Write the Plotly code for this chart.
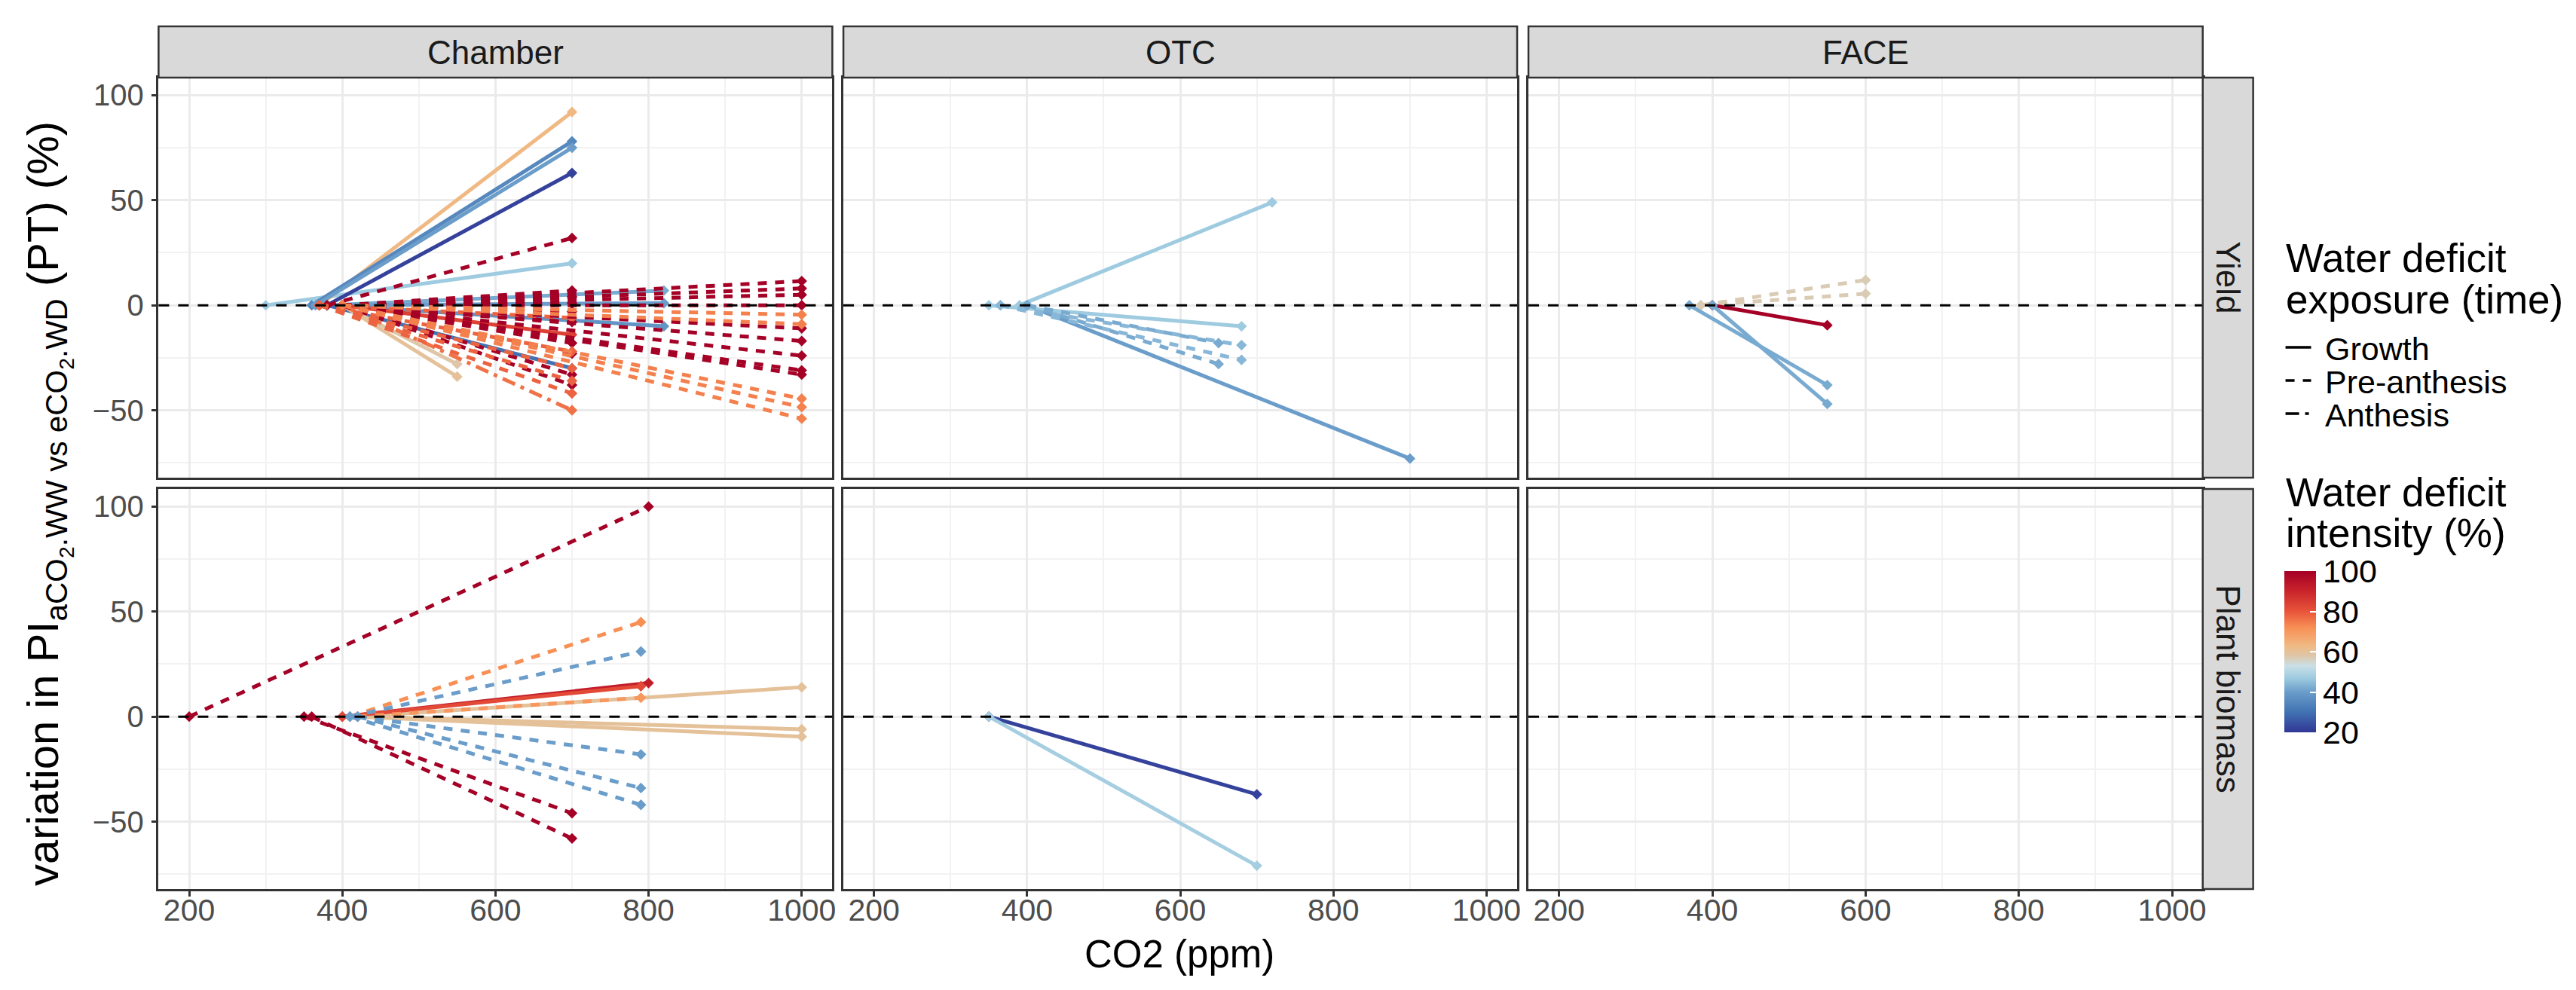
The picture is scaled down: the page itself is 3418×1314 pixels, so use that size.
import plotly.graph_objects as go
from plotly.colors import sample_colorscale

W, H = 3418, 1314
FONT = "Liberation Sans, Arial, sans-serif"

# ---------------- data ----------------
systems = ["Chamber", "OTC", "FACE"]
traits = ["Yield", "Plant biomass"]
x_ticks = [200, 400, 600, 800, 1000]
x_minor = [300, 500, 700, 900]
y_ticks = [-50, 0, 50, 100]
y_minor = [-75, -25, 25, 75]
intensity_ticks = [20, 40, 60, 80, 100]
exposure_names = {"G": "Growth", "P": "Pre-anthesis", "A": "Anthesis"}

# Chamber - Yield
ch_y_aco2 = [300, 370, 360, 365, 380, 380, 380, 380, 400, 380, 400, 400, 400,
             380, 400, 400, 400, 400, 400, 400, 400, 400, 400,
             370, 370, 370, 370, 370,
             400, 400, 400, 400, 400, 400, 400, 400, 400,
             400, 400, 400, 400, 400]
ch_y_eco2 = [700, 700, 700, 700, 700, 820, 820, 820, 700, 700, 550, 550, 700,
             700, 700, 700, 700, 700, 700, 700, 700, 700, 700,
             700, 700, 700, 700, 700,
             1000, 1000, 1000, 1000, 1000, 1000, 1000, 1000, 1000,
             1000, 1000, 1000, 1000, 1000]
ch_y_pct = [20, 92, 78, 75, 63, 7, 1, -10, -14, -30, -28, -34, -50,
            32, 7, 4, 1, -3, -8, -18, -23, -33, -38,
            -6, -22, -30, -36, -42,
            11.5, 8, 5, 0, -11, -17, -24, -31, -33,
            -4.5, -9, -44.5, -48.5, -54]
ch_y_wd = [47, 63, 35, 40, 22, 42, 40, 38, 84, 30, 58, 60, 76,
           100, 100, 100, 100, 100, 100, 100, 100, 100, 100,
           78, 78, 78, 78, 78,
           100, 100, 100, 100, 100, 100, 100, 100, 100,
           74, 74, 74, 74, 74]
ch_y_exp = ["G"] * 12 + ["A"] + ["P"] * 29

# OTC - Yield
otc_y_aco2 = [390, 400, 350, 365, 365, 400, 400]
otc_y_eco2 = [720, 900, 680, 680, 680, 650, 650]
otc_y_pct = [49, -73, -10, -19, -26, -18, -28]
otc_y_wd = [47, 40, 47, 44, 44, 42, 42]
otc_y_exp = ["G", "G", "G", "P", "P", "P", "P"]

# FACE - Yield
face_y_aco2 = [385, 385, 400, 370, 400]
face_y_eco2 = [600, 600, 550, 550, 550]
face_y_pct = [12, 5.5, -9.5, -38, -47]
face_y_wd = [57, 57, 100, 42, 42]
face_y_exp = ["P", "P", "G", "G", "G"]

# Chamber - Plant biomass
ch_b_aco2 = [420, 420, 420, 400, 400, 200, 350, 360, 410, 410, 420, 420, 420, 410]
ch_b_eco2 = [1000, 1000, 1000, 800, 790, 800, 700, 700, 790, 790, 790, 790, 790, 790]
ch_b_pct = [14, -6, -9.5, 16, 14.5, 100, -46, -58, 45, 31, 9, -18, -34, -42]
ch_b_wd = [60, 60, 60, 92, 82, 100, 100, 100, 72, 40, 70, 40, 40, 40]
ch_b_exp = ["G", "G", "G", "G", "G", "P", "P", "P", "P", "P", "P", "P", "P", "P"]

# OTC - Plant biomass
otc_b_aco2 = [350, 350]
otc_b_eco2 = [700, 700]
otc_b_pct = [-37, -71]
otc_b_wd = [22, 48]
otc_b_exp = ["G", "G"]

# FACE - Plant biomass (no data)
face_b_aco2, face_b_eco2, face_b_pct, face_b_wd, face_b_exp = [], [], [], [], []

panels = {
    (0, 0): (ch_y_aco2, ch_y_eco2, ch_y_pct, ch_y_wd, ch_y_exp),
    (0, 1): (otc_y_aco2, otc_y_eco2, otc_y_pct, otc_y_wd, otc_y_exp),
    (0, 2): (face_y_aco2, face_y_eco2, face_y_pct, face_y_wd, face_y_exp),
    (1, 0): (ch_b_aco2, ch_b_eco2, ch_b_pct, ch_b_wd, ch_b_exp),
    (1, 1): (otc_b_aco2, otc_b_eco2, otc_b_pct, otc_b_wd, otc_b_exp),
    (1, 2): (face_b_aco2, face_b_eco2, face_b_pct, face_b_wd, face_b_exp),
}

# ---------------- styling ----------------
cs_stops = [(20, "#313695"), (30, "#4172B3"), (40, "#6A9DCA"), (47, "#9ECBE0"),
            (53, "#CADFE6"), (58, "#DEC6A8"), (63, "#F0B983"), (72, "#F88F55"),
            (80, "#E8543A"), (90, "#C9242B"), (100, "#A50026")]
colorscale = [[(v - 20) / 80, c] for v, c in cs_stops]

def wd_color(v):
    return sample_colorscale(colorscale, [(v - 20) / 80])[0]

dash_map = {"G": "solid", "P": "12px,11px", "A": "18px,8px,5px,8px"}

col_px = [(202.7, 1098.0), (1112.7, 2008.0), (2023.0, 2919.0)]
row_px = [(95.0, 626.0), (641.0, 1172.0)]
strip_top = (27.0, 95.0)
strip_right = (2919.0, 2986.0)
XR = [160, 1040]
YR = [-82.1, 108.4]

def px(xp):
    return xp / W

def py(yp):
    return 1 - yp / H

fig = go.Figure()
layout = dict(width=W, height=H, margin=dict(l=0, r=0, t=0, b=0),
              paper_bgcolor="white", plot_bgcolor="white", showlegend=False,
              font=dict(family=FONT))
shapes = []
annotations = []

for r in range(2):
    for c in range(3):
        i = r * 3 + c + 1
        sx = "" if i == 1 else str(i)
        layout["xaxis" + sx] = dict(
            domain=[px(col_px[c][0]), px(col_px[c][1])], range=XR, anchor="y" + sx,
            tickvals=x_ticks, showticklabels=(r == 1), ticks="outside" if r == 1 else "",
            ticklen=7, tickwidth=2.5, tickcolor="#333333", ticklabelstandoff=-17,
            tickfont=dict(size=41, color="#4D4D4D", family=FONT),
            showgrid=True, gridcolor="#EBEBEB", gridwidth=2.5,
            minor=dict(tickvals=x_minor, showgrid=True, gridcolor="#F2F2F2", gridwidth=1.5),
            showline=True, mirror=True, linecolor="#333333", linewidth=2.5, zeroline=False)
        layout["yaxis" + sx] = dict(
            domain=[py(row_px[r][1]), py(row_px[r][0])], range=YR, anchor="x" + sx,
            tickvals=y_ticks, showticklabels=(c == 0), ticks="outside" if c == 0 else "",
            ticklen=7, tickwidth=2.5, tickcolor="#333333", ticklabelstandoff=2,
            tickfont=dict(size=40, color="#4D4D4D", family=FONT),
            showgrid=True, gridcolor="#EBEBEB", gridwidth=2.5,
            minor=dict(tickvals=y_minor, showgrid=True, gridcolor="#F2F2F2", gridwidth=1.5),
            showline=True, mirror=True, linecolor="#333333", linewidth=2.5, zeroline=False)

        aco2, eco2, pct, wd, exp = panels[(r, c)]
        for a, e, v, w, ex in zip(aco2, eco2, pct, wd, exp):
            col = wd_color(w)
            fig.add_trace(go.Scatter(
                x=[a, e], y=[0, v], mode="lines+markers", xaxis="x" + sx, yaxis="y" + sx,
                line=dict(color=col, width=5, dash=dash_map[ex]),
                marker=dict(symbol="diamond", size=11, color=col),
                hoverinfo="skip", showlegend=False))

        shapes.append(dict(type="line", xref="x" + sx + " domain", yref="y" + sx,
                           x0=0, x1=1, y0=0, y1=0, layer="above",
                           line=dict(color="black", width=3, dash="14px,12px")))

# top strips
for c in range(3):
    shapes.append(dict(type="rect", xref="paper", yref="paper",
                       x0=px(col_px[c][0]), x1=px(col_px[c][1]),
                       y0=py(strip_top[1]), y1=py(strip_top[0]),
                       fillcolor="#D9D9D9", line=dict(color="#333333", width=2.5)))
    annotations.append(dict(text=systems[c], xref="paper", yref="paper",
                            x=px((col_px[c][0] + col_px[c][1]) / 2),
                            y=py((strip_top[0] + strip_top[1]) / 2),
                            showarrow=False, xanchor="center", yanchor="middle",
                            font=dict(size=44, color="#1A1A1A", family=FONT)))
# right strips
for r in range(2):
    shapes.append(dict(type="rect", xref="paper", yref="paper",
                       x0=px(strip_right[0]), x1=px(strip_right[1]),
                       y0=py(row_px[r][1]), y1=py(row_px[r][0]),
                       fillcolor="#D9D9D9", line=dict(color="#333333", width=2.5)))
    annotations.append(dict(text=traits[r], xref="paper", yref="paper",
                            x=px((strip_right[0] + strip_right[1]) / 2),
                            y=py((row_px[r][0] + row_px[r][1]) / 2),
                            showarrow=False, textangle=90, xanchor="center", yanchor="middle",
                            font=dict(size=44, color="#1A1A1A", family=FONT)))

# axis titles
annotations.append(dict(text="CO2 (ppm)", xref="paper", yref="paper",
                        x=px(1559), y=py(1258), showarrow=False,
                        xanchor="center", yanchor="middle",
                        font=dict(size=51, color="black", family=FONT)))
annotations.append(dict(
    text="variation in PI<sub>aCO<sub>2</sub>.WW vs eCO<sub>2</sub>.WD</sub> (PT) (%)",
    xref="paper", yref="paper", x=px(56), y=py(660), showarrow=False,
    textangle=-90, xanchor="center", yanchor="middle",
    font=dict(size=58, color="black", family=FONT)))

# legend: exposure (linetype)
leg_x = 3027
for txt, yy in [("Water deficit", 335), ("exposure (time)", 390)]:
    annotations.append(dict(text=txt, xref="paper", yref="paper", x=px(leg_x), y=py(yy),
                            showarrow=False, xanchor="left", yanchor="middle",
                            font=dict(size=53, color="black", family=FONT)))
for code, yy in [("G", 455), ("P", 499), ("A", 543)]:
    shapes.append(dict(type="line", xref="paper", yref="paper",
                       x0=px(3029), x1=px(3063), y0=py(yy - 2), y1=py(yy - 2),
                       line=dict(color="black", width=3.5, dash=dash_map[code])))
    annotations.append(dict(text=exposure_names[code], xref="paper", yref="paper",
                            x=px(3080), y=py(yy), showarrow=False,
                            xanchor="left", yanchor="middle",
                            font=dict(size=43, color="black", family=FONT)))
# legend: intensity (colour)
for txt, yy in [("Water deficit", 646), ("intensity (%)", 699)]:
    annotations.append(dict(text=txt, xref="paper", yref="paper", x=px(leg_x), y=py(yy),
                            showarrow=False, xanchor="left", yanchor="middle",
                            font=dict(size=53, color="black", family=FONT)))

fig.add_trace(go.Scatter(
    x=[-500, -500], y=[0, 0], mode="markers", xaxis="x6", yaxis="y6",
    marker=dict(color=[intensity_ticks[0], intensity_ticks[-1]], cmin=20, cmax=100,
                colorscale=colorscale, showscale=True, size=1,
                colorbar=dict(x=px(3027), xanchor="left", y=py(750), yanchor="top",
                              len=214, lenmode="pixels", thickness=42, thicknessmode="pixels",
                              xpad=0, ypad=0, outlinewidth=0,
                              tickvals=intensity_ticks, ticktext=[str(t) for t in intensity_ticks],
                              ticks="inside", tickcolor="white", ticklen=8, tickwidth=2,
                              tickfont=dict(size=43, color="black", family=FONT))),
    hoverinfo="skip", showlegend=False))

layout["shapes"] = shapes
layout["annotations"] = annotations
fig.update_layout(**layout)
fig.write_html("out.html")
